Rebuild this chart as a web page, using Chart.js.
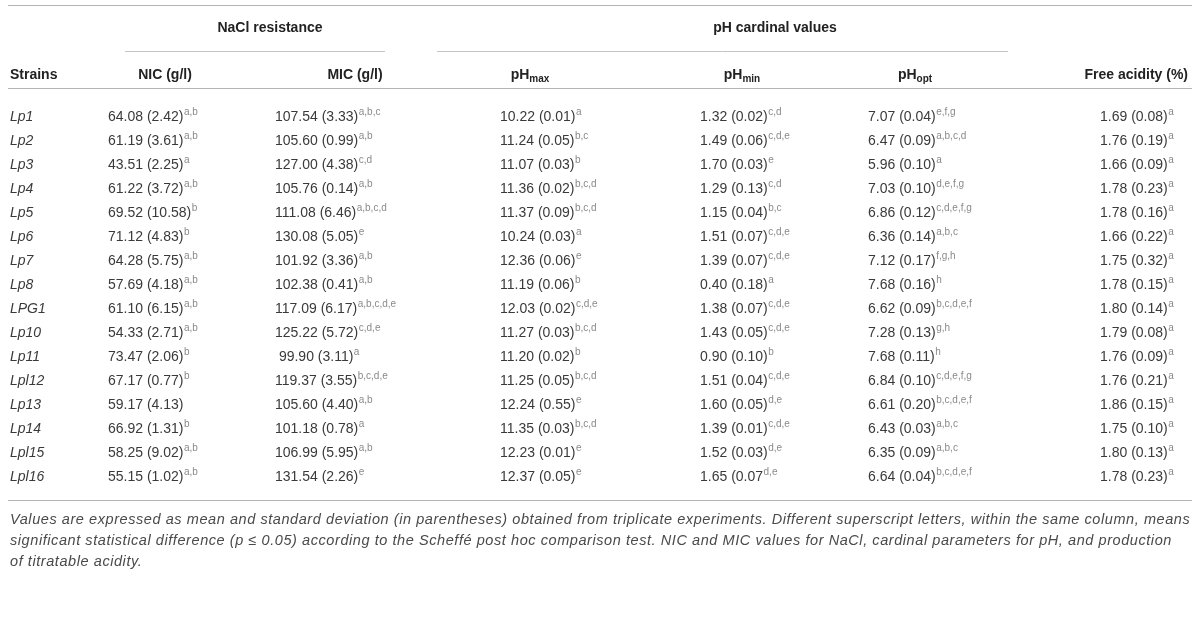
<!DOCTYPE html>
<html>
<head>
<meta charset="utf-8">
<script src="https://cdn.jsdelivr.net/npm/chart.js@4/dist/chart.umd.min.js"></script>
<style>
  html, body { margin: 0; padding: 0; background: #fff; }
  #wrap { width: 1200px; height: 625px; position: relative; }
</style>
</head>
<body>
<div id="wrap"><canvas id="TableChart"></canvas></div>
<script>
const strains = ['Lp1', 'Lp2', 'Lp3', 'Lp4', 'Lp5', 'Lp6', 'Lp7', 'Lp8', 'LPG1', 'Lp10', 'Lp11', 'Lpl12', 'Lp13', 'Lp14', 'Lpl15', 'Lpl16'];

const nicMean = [64.08, 61.19, 43.51, 61.22, 69.52, 71.12, 64.28, 57.69, 61.10, 54.33, 73.47, 67.17, 59.17, 66.92, 58.25, 55.15];
const nicSd = [2.42, 3.61, 2.25, 3.72, 10.58, 4.83, 5.75, 4.18, 6.15, 2.71, 2.06, 0.77, 4.13, 1.31, 9.02, 1.02];
const nicSig = ['a,b', 'a,b', 'a', 'a,b', 'b', 'b', 'a,b', 'a,b', 'a,b', 'a,b', 'b', 'b', '', 'b', 'a,b', 'a,b'];

const micMean = [107.54, 105.60, 127.00, 105.76, 111.08, 130.08, 101.92, 102.38, 117.09, 125.22, 99.90, 119.37, 105.60, 101.18, 106.99, 131.54];
const micSd = [3.33, 0.99, 4.38, 0.14, 6.46, 5.05, 3.36, 0.41, 6.17, 5.72, 3.11, 3.55, 4.40, 0.78, 5.95, 2.26];
const micSig = ['a,b,c', 'a,b', 'c,d', 'a,b', 'a,b,c,d', 'e', 'a,b', 'a,b', 'a,b,c,d,e', 'c,d,e', 'a', 'b,c,d,e', 'a,b', 'a', 'a,b', 'e'];

const phMaxMean = [10.22, 11.24, 11.07, 11.36, 11.37, 10.24, 12.36, 11.19, 12.03, 11.27, 11.20, 11.25, 12.24, 11.35, 12.23, 12.37];
const phMaxSd = [0.01, 0.05, 0.03, 0.02, 0.09, 0.03, 0.06, 0.06, 0.02, 0.03, 0.02, 0.05, 0.55, 0.03, 0.01, 0.05];
const phMaxSig = ['a', 'b,c', 'b', 'b,c,d', 'b,c,d', 'a', 'e', 'b', 'c,d,e', 'b,c,d', 'b', 'b,c,d', 'e', 'b,c,d', 'e', 'e'];

const phMinMean = [1.32, 1.49, 1.70, 1.29, 1.15, 1.51, 1.39, 0.40, 1.38, 1.43, 0.90, 1.51, 1.60, 1.39, 1.52, 1.65];
const phMinSd = [0.02, 0.06, 0.03, 0.13, 0.04, 0.07, 0.07, 0.18, 0.07, 0.05, 0.10, 0.04, 0.05, 0.01, 0.03, 0.07];
const phMinSig = ['c,d', 'c,d,e', 'e', 'c,d', 'b,c', 'c,d,e', 'c,d,e', 'a', 'c,d,e', 'c,d,e', 'b', 'c,d,e', 'd,e', 'c,d,e', 'd,e', 'd,e'];

const phOptMean = [7.07, 6.47, 5.96, 7.03, 6.86, 6.36, 7.12, 7.68, 6.62, 7.28, 7.68, 6.84, 6.61, 6.43, 6.35, 6.64];
const phOptSd = [0.04, 0.09, 0.10, 0.10, 0.12, 0.14, 0.17, 0.16, 0.09, 0.13, 0.11, 0.10, 0.20, 0.03, 0.09, 0.04];
const phOptSig = ['e,f,g', 'a,b,c,d', 'a', 'd,e,f,g', 'c,d,e,f,g', 'a,b,c', 'f,g,h', 'h', 'b,c,d,e,f', 'g,h', 'h', 'c,d,e,f,g', 'b,c,d,e,f', 'a,b,c', 'a,b,c', 'b,c,d,e,f'];

const acidMean = [1.69, 1.76, 1.66, 1.78, 1.78, 1.66, 1.75, 1.78, 1.80, 1.79, 1.76, 1.76, 1.86, 1.75, 1.80, 1.78];
const acidSd = [0.08, 0.19, 0.09, 0.23, 0.16, 0.22, 0.32, 0.15, 0.14, 0.08, 0.09, 0.21, 0.15, 0.10, 0.13, 0.23];
const acidSig = ['a', 'a', 'a', 'a', 'a', 'a', 'a', 'a', 'a', 'a', 'a', 'a', 'a', 'a', 'a', 'a'];

// the source table drops the closing bracket in this one cell
const unclosed = { pHmin: ['Lpl16'] };

const footnote = [
  'Values are expressed as mean and standard deviation (in parentheses) obtained from triplicate experiments. Different superscript letters, within the same column, means',
  'significant statistical difference (p \u2264 0.05) according to the Scheff\u00e9 post hoc comparison test. NIC and MIC values for NaCl, cardinal parameters for pH, and production',
  'of titratable acidity.'
];

const FONT = '"Liberation Sans", Arial, sans-serif';

// column anchor (x on the 0..1200 scale) and header placement
const columns = [
  { key: 'NIC', x: 108, head: 'NIC (g/l)', headX: 165, mean: nicMean, sd: nicSd, sig: nicSig },
  { key: 'MIC', x: 275, head: 'MIC (g/l)', headX: 355, mean: micMean, sd: micSd, sig: micSig },
  { key: 'pHmax', x: 500, head: ['pH', 'max'], headX: 530, mean: phMaxMean, sd: phMaxSd, sig: phMaxSig },
  { key: 'pHmin', x: 700, head: ['pH', 'min'], headX: 742, mean: phMinMean, sd: phMinSd, sig: phMinSig },
  { key: 'pHopt', x: 868, head: ['pH', 'opt'], headX: 915, mean: phOptMean, sd: phOptSd, sig: phOptSig },
  { key: 'acid', x: 1100, head: 'Free acidity (%)', headX: 1188, headAlign: 'right', mean: acidMean, sd: acidSd, sig: acidSig }
];

function cellText(col, i) {
  let main = col.mean[i].toFixed(2) + ' (' + col.sd[i].toFixed(2);
  if (!(unclosed[col.key] || []).includes(strains[i])) main += ')';
  if (col.key === 'MIC' && col.mean[i] < 100) main = ' ' + main;
  return main;
}

const datasets = [{
  label: 'Strains',
  data: strains.map(s => ({ x: 10, y: s })),
  kind: 'name'
}].concat(columns.map(c => ({
  label: c.key,
  data: strains.map(s => ({ x: c.x, y: s })),
  kind: 'cell',
  col: c
})));

const tableText = {
  id: 'tableText',
  afterDatasetsDraw(chart) {
    const ctx = chart.ctx;
    const area = chart.chartArea;
    const xs = chart.scales.x;
    ctx.save();
    ctx.textBaseline = 'middle';

    // rules
    const rule = (x1, x2, y, color) => {
      ctx.strokeStyle = color;
      ctx.lineWidth = 1;
      ctx.beginPath();
      ctx.moveTo(xs.getPixelForValue(x1), y + 0.5);
      ctx.lineTo(xs.getPixelForValue(x2), y + 0.5);
      ctx.stroke();
    };
    rule(8, 1192, area.top - 100, '#b5b5b5');
    rule(125, 385, area.top - 54, '#c4c4c4');
    rule(437, 1008, area.top - 54, '#c4c4c4');
    rule(8, 1192, area.top - 17, '#b5b5b5');
    rule(8, 1192, area.bottom + 11, '#b5b5b5');

    // group headers
    ctx.fillStyle = '#222';
    ctx.font = 'bold 14px ' + FONT;
    ctx.textAlign = 'center';
    ctx.fillText('NaCl resistance', xs.getPixelForValue(270), area.top - 77);
    ctx.fillText('pH cardinal values', xs.getPixelForValue(775), area.top - 77);

    // column headers
    const hy = area.top - 30;
    ctx.textAlign = 'left';
    ctx.fillText('Strains', xs.getPixelForValue(10), hy);
    columns.forEach(c => {
      const cx = xs.getPixelForValue(c.headX);
      if (Array.isArray(c.head)) {
        ctx.font = 'bold 14px ' + FONT;
        const w1 = ctx.measureText(c.head[0]).width;
        ctx.font = 'bold 10px ' + FONT;
        const w2 = ctx.measureText(c.head[1]).width;
        const left = cx - (w1 + w2) / 2;
        ctx.textAlign = 'left';
        ctx.font = 'bold 14px ' + FONT;
        ctx.fillText(c.head[0], left, hy);
        ctx.font = 'bold 10px ' + FONT;
        ctx.fillText(c.head[1], left + w1, hy + 4);
      } else {
        ctx.font = 'bold 14px ' + FONT;
        ctx.textAlign = c.headAlign || 'center';
        ctx.fillText(c.head, cx, hy);
      }
    });

    // body cells, placed on the scatter points of each column
    chart.data.datasets.forEach((ds, d) => {
      const meta = chart.getDatasetMeta(d);
      meta.data.forEach((pt, i) => {
        ctx.textAlign = 'left';
        if (ds.kind === 'name') {
          ctx.fillStyle = '#3a3a3a';
          ctx.font = 'italic 14px ' + FONT;
          ctx.fillText(strains[i], pt.x, pt.y);
          return;
        }
        const main = cellText(ds.col, i);
        ctx.fillStyle = '#3a3a3a';
        ctx.font = '14px ' + FONT;
        ctx.fillText(main, pt.x, pt.y);
        const w = ctx.measureText(main).width;
        const sup = ds.col.sig[i];
        if (sup) {
          ctx.fillStyle = '#8a8a8a';
          ctx.font = '10px ' + FONT;
          ctx.fillText(sup, pt.x + w + 0.5, pt.y - 5);
        }
      });
    });

    // footnote, spread so the first line runs to the right rule
    ctx.fillStyle = '#4a4a4a';
    ctx.font = 'italic 14.5px ' + FONT;
    ctx.textAlign = 'left';
    const x0 = xs.getPixelForValue(10);
    const target = xs.getPixelForValue(1190) - x0;
    const natural = ctx.measureText(footnote[0]).width;
    const spacing = Math.max(0, (target - natural) / (footnote[0].length - 1));
    ctx.letterSpacing = spacing.toFixed(2) + 'px';
    footnote.forEach((line, k) => {
      ctx.fillText(line, x0, area.bottom + 31 + k * 21);
    });
    ctx.restore();
  }
};

const table_ctx = document.getElementById('TableChart');

new Chart(table_ctx, {
  type: 'scatter',
  data: { datasets: datasets },
  options: {
    animation: false,
    responsive: true,
    maintainAspectRatio: false,
    layout: { padding: { top: 105, bottom: 136, left: 0, right: 0 } },
    elements: { point: { radius: 0, hoverRadius: 0 } },
    scales: {
      x: { type: 'linear', min: 0, max: 1200, display: false },
      y: { type: 'category', labels: strains, offset: true, display: false }
    },
    plugins: {
      legend: { display: false },
      tooltip: { enabled: false }
    }
  },
  plugins: [tableText]
});
</script>
</body>
</html>
